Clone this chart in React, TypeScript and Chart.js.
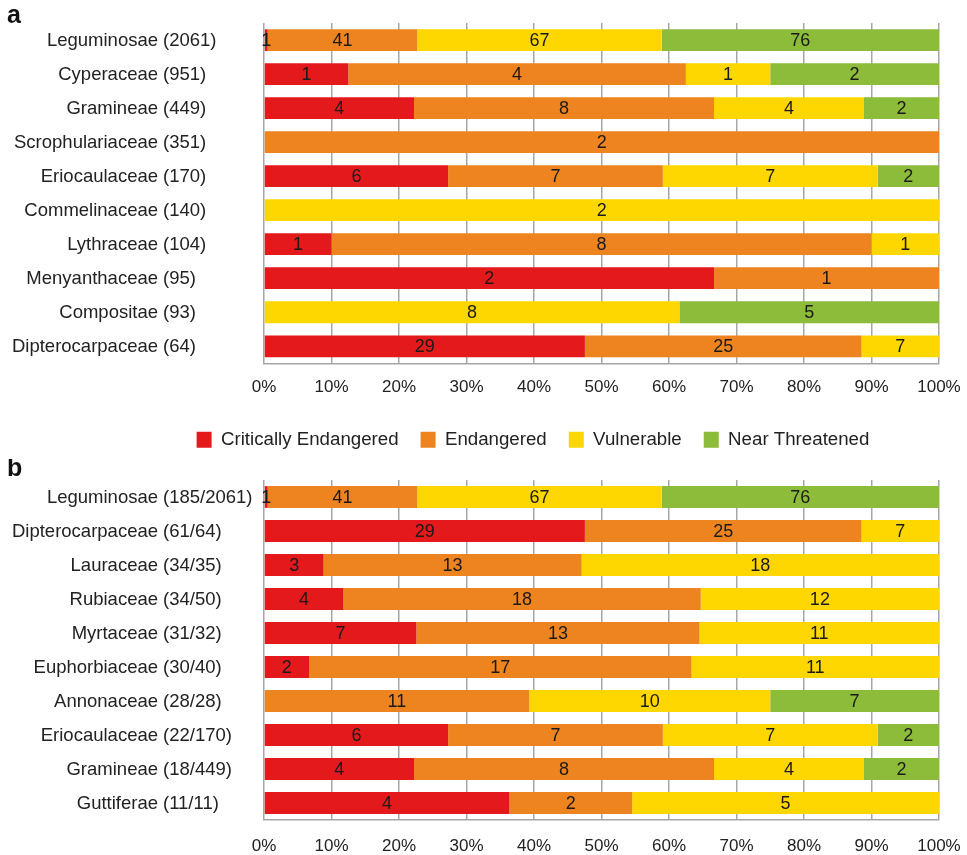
import React, { useEffect, useRef } from 'react';
import { Chart, registerables } from 'chart.js';

Chart.register(...registerables);

const FONT = "'Liberation Sans', Arial, Helvetica, sans-serif";

const statuses = ['Critically Endangered', 'Endangered', 'Vulnerable', 'Near Threatened'];
const statusColors = ['#E3191C', '#EE841F', '#FFD700', '#8DBB3A'];
const percentTicks = [0, 10, 20, 30, 40, 50, 60, 70, 80, 90, 100];

// Panel a
const familiesA = ['Leguminosae', 'Cyperaceae', 'Gramineae', 'Scrophulariaceae', 'Eriocaulaceae', 'Commelinaceae', 'Lythraceae', 'Menyanthaceae', 'Compositae', 'Dipterocarpaceae'];
const countsA = ['(2061)', '(951)', '(449)', '(351)', '(170)', '(140)', '(104)', '(95)', '(93)', '(64)'];
const crA = [1, 1, 4, 0, 6, 0, 1, 2, 0, 29];
const enA = [41, 4, 8, 2, 7, 0, 8, 1, 0, 25];
const vuA = [67, 1, 4, 0, 7, 2, 1, 0, 8, 7];
const ntA = [76, 2, 2, 0, 2, 0, 0, 0, 5, 0];

// Panel b
const familiesB = ['Leguminosae', 'Dipterocarpaceae', 'Lauraceae', 'Rubiaceae', 'Myrtaceae', 'Euphorbiaceae', 'Annonaceae', 'Eriocaulaceae', 'Gramineae', 'Guttiferae'];
const countsB = ['(185/2061)', '(61/64)', '(34/35)', '(34/50)', '(31/32)', '(30/40)', '(28/28)', '(22/170)', '(18/449)', '(11/11)'];
const crB = [1, 29, 3, 4, 7, 2, 0, 6, 4, 4];
const enB = [41, 25, 13, 18, 13, 17, 11, 7, 8, 2];
const vuB = [67, 7, 18, 12, 11, 11, 10, 7, 4, 5];
const ntB = [76, 0, 0, 0, 0, 0, 7, 2, 2, 0];

type PanelDef = {
  letter: string;
  letterBaseline: number;
  families: string[];
  counts: string[];
  series: number[][];
  showLegend: boolean;
  padTop: number;
  xAxisHeight: number;
  tickPad: number;
};

function makeConfig(p: PanelDef): any {
  const totals = p.families.map((_, j) => p.series.reduce((s, arr) => s + arr[j], 0));
  const datasets = p.series.map((arr, i) => ({
    label: statuses[i],
    data: arr.map((v, j) => (totals[j] ? (v / totals[j]) * 100 : 0)),
    backgroundColor: statusColors[i],
    borderWidth: 0,
    barPercentage: 0.64,
    categoryPercentage: 1.0,
  }));

  const textPlugin = {
    id: 'panelText' + p.letter,
    afterDatasetsDraw(chart: any) {
      const ctx = chart.ctx;
      ctx.save();
      ctx.font = `18px ${FONT}`;
      ctx.fillStyle = '#1a1a1a';
      ctx.textAlign = 'center';
      ctx.textBaseline = 'middle';
      p.series.forEach((arr, i) => {
        const meta = chart.getDatasetMeta(i);
        meta.data.forEach((el: any, j: number) => {
          const v = arr[j];
          if (!v) return;
          const { x, base, y } = el.getProps(['x', 'base', 'y'], true);
          ctx.fillText(String(v), (x + base) / 2, y + 1);
        });
      });
      ctx.restore();
    },
    afterDraw(chart: any) {
      const ctx = chart.ctx;
      const yScale = chart.scales.y;
      ctx.save();
      ctx.font = `18.5px ${FONT}`;
      ctx.fillStyle = '#222';
      ctx.textBaseline = 'middle';
      p.families.forEach((name, j) => {
        const yy = yScale.getPixelForTick(j) + 1;
        ctx.textAlign = 'right';
        ctx.fillText(name, yScale.right - 106, yy);
        ctx.textAlign = 'left';
        ctx.fillText(p.counts[j], yScale.right - 101, yy);
      });
      ctx.font = `bold 25px ${FONT}`;
      ctx.fillStyle = '#111';
      ctx.textAlign = 'left';
      ctx.textBaseline = 'alphabetic';
      ctx.fillText(p.letter, 7, p.letterBaseline);
      ctx.restore();
    },
  };

  return {
    type: 'bar',
    data: { labels: p.families, datasets },
    plugins: [textPlugin],
    options: {
      indexAxis: 'y',
      animation: false,
      responsive: false,
      devicePixelRatio: 1,
      layout: { padding: { left: 127, right: 28, top: p.padTop, bottom: 0 } },
      plugins: {
        legend: {
          display: p.showLegend,
          position: 'bottom',
          labels: {
            boxWidth: 15,
            boxHeight: 16,
            padding: 22,
            color: '#222',
            font: { family: FONT, size: 18.7 },
          },
        },
        tooltip: { enabled: false },
        title: { display: false },
      },
      scales: {
        x: {
          stacked: true,
          min: 0,
          max: 100,
          afterBuildTicks(scale: any) {
            scale.ticks = percentTicks.map((v) => ({ value: v }));
          },
          afterFit(scale: any) {
            scale.height = p.xAxisHeight;
            scale.paddingLeft = 0;
            scale.paddingRight = 0;
          },
          ticks: {
            padding: p.tickPad,
            color: '#222',
            font: { family: FONT, size: 17 },
            maxRotation: 0,
            callback: (v: number) => v + '%',
          },
          grid: { color: '#a6a6a6', lineWidth: 1.5, drawTicks: false },
          border: { display: true, color: '#a6a6a6', width: 1.5 },
        },
        y: {
          stacked: true,
          afterFit(scale: any) {
            scale.width = 137;
            scale.paddingTop = 0;
            scale.paddingBottom = 0;
          },
          ticks: { display: false },
          grid: { display: false, drawTicks: false },
          border: { display: false },
        },
      },
    },
  };
}

const panelA: PanelDef = {
  letter: 'a',
  letterBaseline: 23,
  families: familiesA,
  counts: countsA,
  series: [crA, enA, vuA, ntA],
  showLegend: true,
  padTop: 23,
  xAxisHeight: 45,
  tickPad: 14,
};

const panelB: PanelDef = {
  letter: 'b',
  letterBaseline: 17,
  families: familiesB,
  counts: countsB,
  series: [crB, enB, vuB, ntB],
  showLegend: false,
  padTop: 21,
  xAxisHeight: 35,
  tickPad: 16,
};

function Panel({ def, top, height }: { def: PanelDef; top: number; height: number }) {
  const ref = useRef<HTMLCanvasElement>(null);
  useEffect(() => {
    const chart = new Chart(ref.current as HTMLCanvasElement, makeConfig(def));
    return () => chart.destroy();
  }, [def]);
  return (
    <canvas
      ref={ref}
      width={967}
      height={height}
      style={{ position: 'absolute', left: 0, top, width: 967, height, display: 'block' }}
    />
  );
}

export default function App() {
  return (
    <div style={{ position: 'absolute', left: 0, top: 0, width: 967, height: 855, background: '#fff', overflow: 'hidden' }}>
      <Panel def={panelA} top={0} height={459} />
      <Panel def={panelB} top={459} height={396} />
    </div>
  );
}
